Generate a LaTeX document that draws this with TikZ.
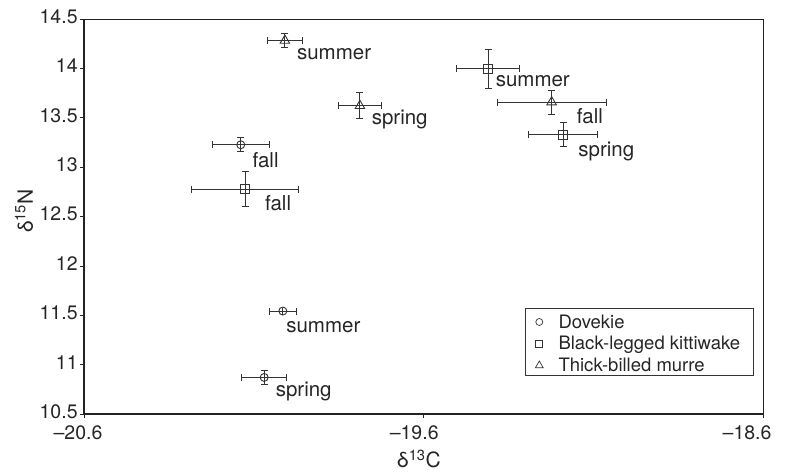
\documentclass[tikz,border=0pt]{standalone}
\usepackage{fontspec}
\setmainfont{TeX Gyre Heros}
\definecolor{ink}{HTML}{333333}
\definecolor{axisink}{HTML}{222222}
\usetikzlibrary{arrows.meta, positioning, shapes.geometric}

\begin{document}
\begin{tikzpicture}[
  x=1pt, y=1pt,
  mk/.style={draw=ink, line width=0.9pt, inner sep=0pt},
  dove/.style={mk, circle, minimum size=8pt},
  kitti/.style={mk, rectangle, minimum size=9pt},
  murre/.style={mk, regular polygon, regular polygon sides=3, minimum size=11pt},
  err/.style={ink, line width=0.9pt, {Bar[width=7pt]}-{Bar[width=7pt]}},
  lbl/.style={font=\fontsize{20.5}{24}\selectfont, anchor=base west, inner sep=0pt, text=black!85},
  ticklbl/.style={font=\fontsize{19.5}{22}\selectfont, inner sep=0pt, text=black!85},
  axtitle/.style={font=\fontsize{21}{24}\selectfont, inner sep=0pt, text=black!85},
  axisline/.style={axisink, line width=1.6pt},
  frame/.style={axisink, line width=1pt},
  legtext/.style={font=\fontsize{18.5}{22}\selectfont, anchor=base west, inner sep=0pt, text=black!85},
]
\useasboundingbox (0,0) rectangle (785,473);

\begin{scope}[x=339.4pt, y=98.8pt, shift={(7075.94pt,-978.7pt)}]

% Frame and axes
\coordinate (o) at (-20.6,10.5);
\coordinate (ne) at (-18.6,14.5);
\draw[frame] (-20.6,14.5) -- (ne) -- (-18.6,10.5);
\draw[axisline] (-20.6,14.5) -- (o) -- (-18.6,10.5);

% Ticks
\foreach \v/\t [count=\i] in {10.5/10.5, 11/11, 11.5/11.5, 12/12, 12.5/12.5, 13/13, 13.5/13.5, 14/14, 14.5/14.5} {
  \draw[axisline, line width=1pt] (-20.6,\v) -- ++(-4pt,0);
  \node[ticklbl, anchor=east] (ytick\i) at ([shift={(-6.5pt,2.5pt)}]-20.6,\v) {\t};
}
\foreach \v/\t/\dx [count=\i] in {-20.6/20.6/-6.3, -19.6/19.6/-9.5, -18.6/18.6/-16} {
  \draw[axisline, line width=1pt] (\v,10.5) -- ++(0,-4pt);
  \node[ticklbl] (xtick\i) at ([shift={(\dx pt,-18.7pt)}]\v,10.5) {\textendash\t};
}

% Error bars
\draw[err] (-20.070-0.067,10.873) -- (-20.070+0.067,10.873);
\draw[err] (-20.070,10.873-0.079) -- (-20.070,10.873+0.079);
\draw[err] (-20.015-0.041,11.545) -- (-20.015+0.041,11.545);
\draw[ink, line width=0.9pt] (-20.015,11.545-0.035) -- (-20.015,11.545+0.035);
\draw[err] (-20.139-0.0845,13.228) -- (-20.139+0.0845,13.228);
\draw[err] (-20.139,13.228-0.074) -- (-20.139,13.228+0.074);
\draw[err] (-20.126-0.159,12.779) -- (-20.126+0.159,12.779);
\draw[err] (-20.126,12.779-0.18) -- (-20.126,12.779+0.18);
\draw[err] (-19.410-0.094,13.997) -- (-19.410+0.094,13.997);
\draw[err] (-19.410,13.997-0.2) -- (-19.410,13.997+0.2);
\draw[err] (-19.189-0.103,13.332) -- (-19.189+0.103,13.332);
\draw[err] (-19.189,13.332-0.127) -- (-19.189,13.332+0.127);
\draw[err] (-20.009-0.0516,14.283) -- (-20.009+0.0516,14.283);
\draw[err] (-20.009,14.283-0.079) -- (-20.009,14.283+0.079);
\draw[err] (-19.788-0.064,13.623) -- (-19.788+0.064,13.623);
\draw[err] (-19.788,13.623-0.138) -- (-19.788,13.623+0.138);
\draw[err] (-19.223-0.162,13.66) -- (-19.223+0.162,13.66);
\draw[err] (-19.223,13.66-0.127) -- (-19.223,13.66+0.127);

% Dovekie
\node[dove] (dSpring) at (-20.070,10.873) {};
\node[dove] (dSummer) at (-20.015,11.545) {};
\node[dove] (dFall) at (-20.139,13.228) {};
% Black-legged kittiwake
\node[kitti] (kFall) at (-20.126,12.779) {};
\node[kitti] (kSummer) at (-19.410,13.997) {};
\node[kitti] (kSpring) at (-19.189,13.332) {};
% Thick-billed murre
\node[murre] (mSummer) at (-20.009,14.283) {};
\node[murre] (mSpring) at (-19.788,13.623) {};
\node[murre] (mFall) at (-19.223,13.66) {};

% Season labels
\node[lbl] (dSpringLbl) at ([shift={(11.4pt,-19pt)}]dSpring.center) {spring};
\node[lbl] (dSummerLbl) at ([shift={(3.3pt,-21.4pt)}]dSummer.center) {summer};
\node[lbl] (dFallLbl) at ([shift={(11.6pt,-22.7pt)}]dFall.center) {fall};
\node[lbl] (kFallLbl) at ([shift={(19.7pt,-21.4pt)}]kFall.center) {fall};
\node[lbl] (kSummerLbl) at ([shift={(7.4pt,-17.7pt)}]kSummer.center) {summer};
\node[lbl] (kSpringLbl) at ([shift={(15pt,-22pt)}]kSpring.center) {spring};
\node[lbl] (mSummerLbl) at ([shift={(12pt,-18.6pt)}]mSummer.center) {summer};
\node[lbl] (mSpringLbl) at ([shift={(11.7pt,-19pt)}]mSpring.center) {spring};
\node[lbl] (mFallLbl) at ([shift={(25pt,-21pt)}]mFall.center) {fall};
\end{scope}

% Axis titles
\node[axtitle, rotate=90] (ylab) at (24,262) {δ\textsuperscript{15}N};
\node[axtitle] (xlab) at (419,14) {δ\textsuperscript{13}C};

% Legend
\node[draw=ink, line width=0.8pt, minimum width=228pt, minimum height=66.7pt, inner sep=0pt] (legend) at (639.3,131.35) {};
\node[dove, minimum size=7pt, line width=0.7pt] (legDove) at (539.3,151) {};
\node[kitti, minimum size=7pt, line width=0.7pt] (legKitti) at (539.3,129.2) {};
\node[murre, minimum size=9pt, line width=0.7pt] (legMurre) at (539.3,107.5) {};
\node[legtext] (legDoveTxt) at (558.3,144.5) {Dovekie};
\node[legtext] (legKittiTxt) at (558.3,123) {Black-legged kittiwake};
\node[legtext] (legMurreTxt) at (558.3,101.5) {Thick-billed murre};

\end{tikzpicture}
\end{document}
